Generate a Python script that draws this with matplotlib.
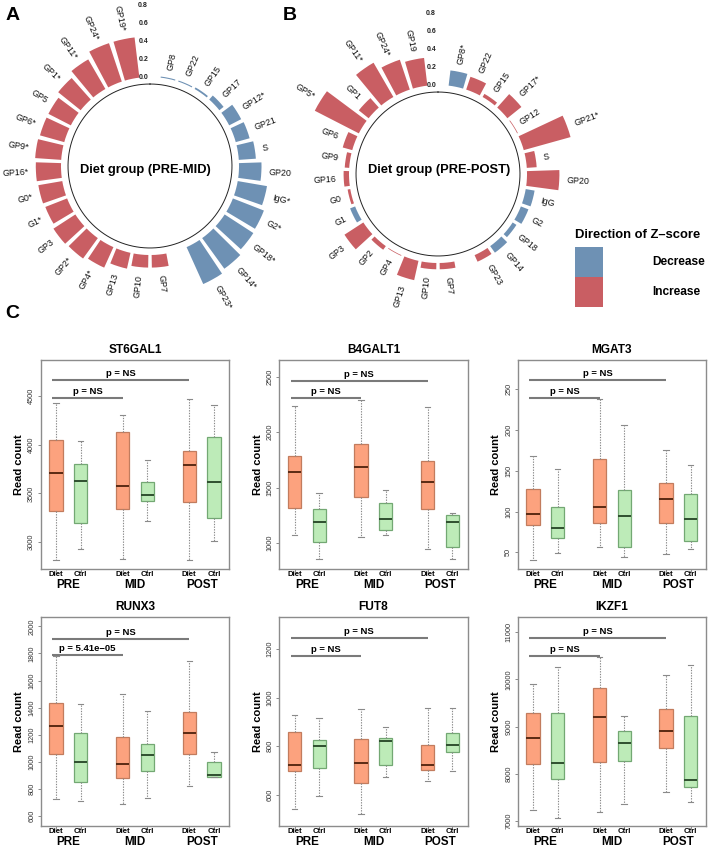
import numpy as np
import matplotlib
matplotlib.use('Agg')
import matplotlib.pyplot as plt
from matplotlib.patches import Rectangle

plt.rcParams['font.family'] = ['Liberation Sans', 'DejaVu Sans']

W, H = 709, 848
fig = plt.figure(figsize=(W / 100, H / 100), dpi=100)

# ---------------- DATA: circular bar charts ----------------
traits = ['GP8', 'GP22', 'GP15', 'GP17', 'GP12', 'GP21', 'S', 'GP20', 'IgG', 'G2', 'GP18', 'GP14', 'GP23',
          'GP7', 'GP10', 'GP13', 'GP4', 'GP2', 'GP3', 'G1', 'G0', 'GP16', 'GP9', 'GP6', 'GP5', 'GP1',
          'GP11', 'GP24', 'GP19']
group1_size = 13  # traits before the second gap

# PRE-MID |Z| values and direction (D=decrease, I=increase), significance
zA = [0.012, 0.012, 0.02, 0.06, 0.15, 0.16, 0.19, 0.25, 0.33, 0.37, 0.38, 0.42, 0.45,
      0.14, 0.14, 0.18, 0.25, 0.28, 0.29, 0.26, 0.27, 0.28, 0.29, 0.28, 0.28, 0.32, 0.38, 0.45, 0.45]
dirA = ['D'] * 13 + ['I'] * 16
sigA = [0, 0, 0, 0, 1, 0, 0, 0, 1, 1, 1, 1, 1,
        0, 0, 0, 1, 1, 0, 1, 1, 1, 1, 1, 0, 1, 1, 1, 1]

# PRE-POST
zB = [0.17, 0.15, 0.04, 0.20, 0.008, 0.54, 0.11, 0.36, 0.10, 0.09, 0.05, 0.09, 0.08,
      0.07, 0.07, 0.22, 0.008, 0.05, 0.25, 0.06, 0.03, 0.06, 0.05, 0.11, 0.55, 0.14, 0.44, 0.35, 0.31]
dirB = ['D', 'I', 'I', 'I', 'I', 'I', 'I', 'I', 'D', 'D', 'D', 'D', 'I',
        'I', 'I', 'I', 'I', 'I', 'I', 'D', 'I', 'I', 'I', 'I', 'I', 'I', 'I', 'I', 'I']
sigB = [1, 0, 0, 1, 0, 1, 0, 0, 0, 0, 0, 0, 0,
        0, 0, 0, 0, 0, 0, 0, 0, 0, 0, 0, 1, 0, 1, 1, 0]

r_ticks = [0.0, 0.2, 0.4, 0.6, 0.8]

# ---------------- DATA: boxplots ----------------
box_groups = ['PRE', 'MID', 'POST']
box_arms = ['Diet', 'Ctrl']

genes = ['ST6GAL1', 'B4GALT1', 'MGAT3', 'RUNX3', 'FUT8', 'IKZF1']

ST6GAL1_lo = [2818, 2932, 2829, 3216, 2822, 3017]
ST6GAL1_q1 = [3318, 3202, 3342, 3425, 3411, 3250]
ST6GAL1_med = [3712, 3623, 3572, 3479, 3795, 3616]
ST6GAL1_q3 = [4045, 3805, 4130, 3616, 3938, 4079]
ST6GAL1_hi = [4428, 4034, 4305, 3846, 4462, 4404]

B4GALT1_lo = [1072, 856, 1051, 1069, 946, 853]
B4GALT1_q1 = [1320, 1006, 1416, 1120, 1311, 967]
B4GALT1_med = [1638, 1192, 1683, 1213, 1551, 1192]
B4GALT1_q3 = [1781, 1311, 1895, 1365, 1737, 1251]
B4GALT1_hi = [2240, 1452, 2293, 1482, 2231, 1272]

MGAT3_lo = [41, 49, 56, 44.6, 48, 53.6]
MGAT3_q1 = [84, 68, 86, 56, 85.5, 64]
MGAT3_med = [97, 80, 105.6, 94, 116, 90.8]
MGAT3_q3 = [128, 106, 164, 127, 134.6, 121]
MGAT3_hi = [168, 152, 238, 206, 176, 157.5]

RUNX3_lo = [722, 713, 688, 735, 823, 885]
RUNX3_q1 = [1057, 848, 882, 929, 1054, 887]
RUNX3_med = [1263, 1000, 985, 1047, 1214, 902]
RUNX3_q3 = [1437, 1214, 1184, 1130, 1369, 998]
RUNX3_hi = [1779, 1430, 1504, 1376, 1744, 1069]

FUT8_lo = [543, 594, 521, 673, 656, 696]
FUT8_q1 = [698, 710, 649, 724, 703, 776]
FUT8_med = [721, 802, 732, 820, 721, 806]
FUT8_q3 = [860, 826, 830, 835, 806, 856]
FUT8_hi = [930, 915, 951, 877, 955, 958]

IKZF1_lo = [7228, 7057, 7192, 7356, 7605, 7406]
IKZF1_q1 = [8210, 7890, 8246, 8267, 8545, 7705]
IKZF1_med = [8758, 8231, 9199, 8658, 8915, 7868]
IKZF1_q3 = [9278, 9278, 9811, 8907, 9363, 9221]
IKZF1_hi = [9897, 10260, 10473, 9221, 10103, 10310]

ylims = {'ST6GAL1': (2726, 4866), 'B4GALT1': (767, 2650), 'MGAT3': (29.5, 286),
         'RUNX3': (526, 2069), 'FUT8': (472, 1331), 'IKZF1': (6886, 11327)}
yticks = {'ST6GAL1': [3000, 3500, 4000, 4500], 'B4GALT1': [1000, 1500, 2000, 2500],
          'MGAT3': [50, 100, 150, 200, 250], 'RUNX3': [600, 800, 1000, 1200, 1400, 1600, 1800, 2000],
          'FUT8': [600, 800, 1000, 1200], 'IKZF1': [7000, 8000, 9000, 10000, 11000]}
# p-value bars: (y long PRE-POST, y short PRE-MID)
p_long_y = {'ST6GAL1': 4661, 'B4GALT1': 2464, 'MGAT3': 261.5, 'RUNX3': 1909, 'FUT8': 1244, 'IKZF1': 10879}
p_short_y = {'ST6GAL1': 4479, 'B4GALT1': 2305, 'MGAT3': 239.8, 'RUNX3': 1786, 'FUT8': 1171, 'IKZF1': 10502}
p_long_txt = {g: 'p = NS' for g in genes}
p_short_txt = {g: 'p = NS' for g in genes}
p_short_txt['RUNX3'] = 'p = 5.41e\u221205'

box_data = {g: (globals()[g + '_lo'], globals()[g + '_q1'], globals()[g + '_med'],
                globals()[g + '_q3'], globals()[g + '_hi']) for g in genes}

# ---------------- styles ----------------
BLUE = '#6E91B4'
RED = '#C95E63'
DIET_FILL, DIET_EDGE, DIET_MED = '#FCA27E', '#C27C5E', '#5A2A14'
CTRL_FILL, CTRL_EDGE, CTRL_MED = '#BDEBB8', '#73A873', '#2F4F2F'
FRAME = '#8C8C8C'


def px_rect(left, top, right, bottom):
    return [left / W, 1 - bottom / H, (right - left) / W, (bottom - top) / H]


# ---------------- circular panels ----------------
ZERO_PX, SCALE_PX, RMAX = 89.0, 90.0, 0.85
RMIN = -ZERO_PX / SCALE_PX
R_PX = ZERO_PX + SCALE_PX * RMAX
nslots = len(traits) + 2
slot = 2 * np.pi / nslots


def slot_ids():
    ids = []
    for i in range(len(traits)):
        ids.append(i + 1 if i < group1_size else i + 2)
    return np.array(ids)


def circ_panel(cx, cy, z, dirs, sig, title, text_xy):
    ax = fig.add_axes(px_rect(cx - R_PX, cy - R_PX, cx + R_PX, cy + R_PX), projection='polar')
    ax.set_theta_zero_location('N')
    ax.set_theta_direction(-1)
    ax.set_ylim(RMIN, RMAX)
    ax.set_axis_off()
    theta = slot_ids() * slot
    cols = [BLUE if d == 'D' else RED for d in dirs]
    ax.bar(theta, z, width=slot * 0.82, bottom=0, color=cols, edgecolor='none')
    tt = np.linspace(0, 2 * np.pi, 400)
    ax.plot(tt, np.full_like(tt, -0.078), color='#222222', lw=0.7)
    for th, v, name, s in zip(theta, z, traits, sig):
        a = np.degrees(th)
        lab = name + ('*' if s else '')
        if a < 180:
            rot, ha = 90 - a, 'left'
        else:
            rot, ha = 270 - a, 'right'
        ax.text(th, v + 0.085, lab, rotation=rot, rotation_mode='anchor', ha=ha, va='center',
                fontsize=6.4, color='#111111')
    for v in r_ticks:
        ax.text(-0.012, v, f'{v:.1f}', ha='right', va='center', fontsize=5, fontweight='bold',
                color='#222222')
    fig.text(text_xy[0] / W, 1 - text_xy[1] / H, title, ha='center', va='center',
             fontsize=9.3, fontweight='bold')


circ_panel(150, 166, zA, dirA, sigA, 'Diet group (PRE-MID)', (145, 170))
circ_panel(438, 174, zB, dirB, sigB, 'Diet group (PRE-POST)', (439, 170))

# panel letters
fig.text(13 / W, 1 - 16 / H, 'A', fontsize=14, fontweight='bold', ha='center', va='center')
fig.text(290 / W, 1 - 16 / H, 'B', fontsize=14, fontweight='bold', ha='center', va='center')
fig.text(12 / W, 1 - 313 / H, 'C', fontsize=14, fontweight='bold', ha='center', va='center')

# legend
fig.text(575 / W, 1 - 235 / H, 'Direction of Z\u2013score', ha='left', va='center',
         fontsize=9.4, fontweight='bold')
fig.patches.append(Rectangle((575 / W, 1 - 276.5 / H), 28 / W, 29.5 / H, transform=fig.transFigure,
                             facecolor=BLUE, edgecolor='none'))
fig.patches.append(Rectangle((575 / W, 1 - 306.5 / H), 28 / W, 29.5 / H, transform=fig.transFigure,
                             facecolor=RED, edgecolor='none'))
fig.text(652 / W, 1 - 262 / H, 'Decrease', ha='left', va='center', fontsize=8.6, fontweight='bold')
fig.text(652 / W, 1 - 292 / H, 'Increase', ha='left', va='center', fontsize=8.6, fontweight='bold')

# ---------------- boxplot panels ----------------
positions = [1, 2, 3.7, 4.7, 6.4, 7.4]
col_lr = [(40.7, 229.3), (279.3, 467.5), (517.7, 706)]
row_tb = [(360, 569), (617, 826)]

for k, g in enumerate(genes):
    l, r = col_lr[k % 3]
    t, b = row_tb[k // 3]
    ax = fig.add_axes(px_rect(l, t, r, b))
    lo, q1, med, q3, hi = box_data[g]
    stats = [dict(whislo=lo[i], q1=q1[i], med=med[i], q3=q3[i], whishi=hi[i], fliers=[])
             for i in range(len(lo))]
    res = ax.bxp(stats, positions=positions, widths=0.54, patch_artist=True, showfliers=False,
                 capwidths=0.22,
                 whiskerprops=dict(linestyle=(0, (1.2, 1.2)), color='#8a8a8a', lw=0.8),
                 capprops=dict(color='#8a8a8a', lw=0.8),
                 medianprops=dict(lw=1.4))
    for i, bx in enumerate(res['boxes']):
        diet = (i % 2 == 0)
        bx.set_facecolor(DIET_FILL if diet else CTRL_FILL)
        bx.set_edgecolor(DIET_EDGE if diet else CTRL_EDGE)
        bx.set_linewidth(0.9)
        res['medians'][i].set_color(DIET_MED if diet else CTRL_MED)
    ax.set_xlim(0.38, 8.02)
    ax.set_ylim(*ylims[g])
    ax.set_yticks(yticks[g])
    ax.set_yticklabels([str(v) for v in yticks[g]], rotation=90, va='center', fontsize=5.3,
                       color='#333333')
    ax.tick_params(axis='y', length=2.5, width=0.6, color='#777777', pad=1.5)
    ax.set_xticks(positions)
    ax.set_xticklabels([])
    ax.tick_params(axis='x', length=2.5, width=0.6, color='#777777')
    for sp in ax.spines.values():
        sp.set_color(FRAME)
        sp.set_linewidth(1.0)
    ax.set_ylabel('Read count', fontsize=8, fontweight='bold', labelpad=3)
    ax.set_title(g, fontsize=8.6, fontweight='bold', pad=5)
    for i, p in enumerate(positions):
        ax.text(p, -0.028, box_arms[i % 2], transform=ax.get_xaxis_transform(), ha='center',
                va='center', fontsize=5.6, fontweight='bold')
    for j, grp in enumerate(box_groups):
        xm = (positions[2 * j] + positions[2 * j + 1]) / 2
        ax.text(xm, -0.076, grp, transform=ax.get_xaxis_transform(), ha='center', va='center',
                fontsize=8.4, fontweight='bold')
    # p-value bars
    x0 = positions[0] - 0.15
    for xe, yv, txt in [(positions[4], p_long_y[g], p_long_txt[g]),
                        (positions[2], p_short_y[g], p_short_txt[g])]:
        ax.plot([x0, xe], [yv, yv], color='#7a7a7a', lw=1.5, solid_capstyle='butt')
        ax.annotate(txt, xy=((x0 + xe) / 2, yv), xytext=(0, 4.6), textcoords='offset points',
                    ha='center', va='center', fontsize=6.8, fontweight='bold')

fig.savefig('out.png', dpi=100)
